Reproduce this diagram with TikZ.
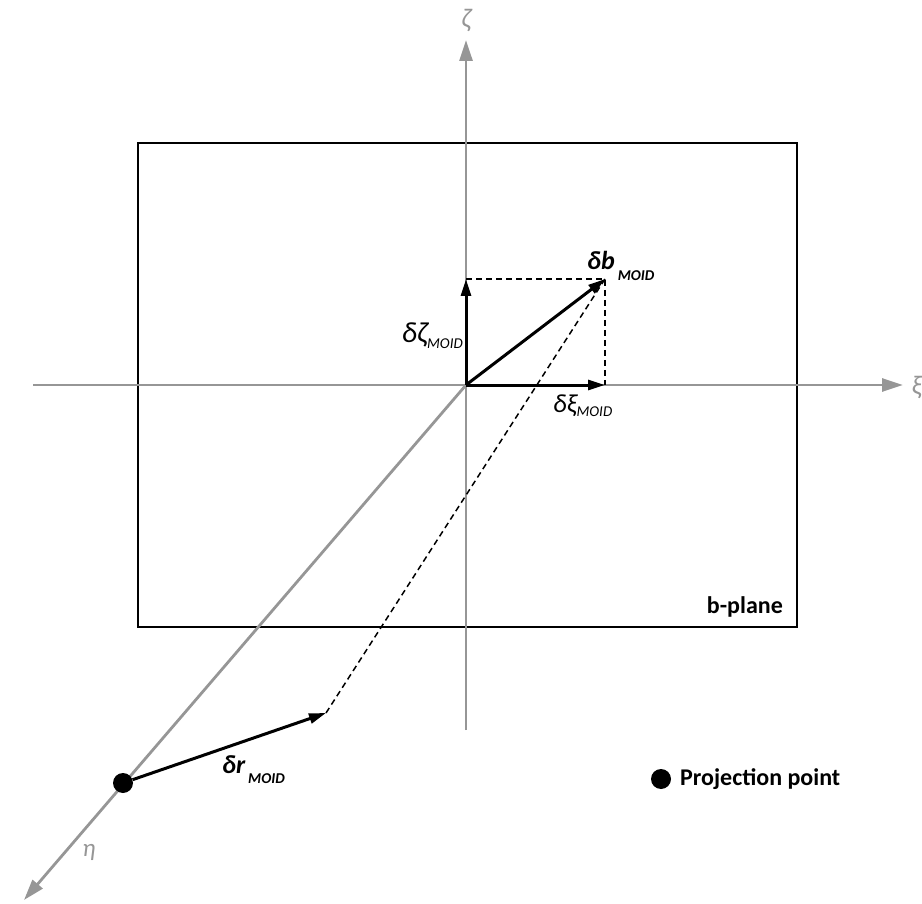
\documentclass[tikz,border=0pt]{standalone}
\usepackage{fontspec}
\setmainfont{Carlito}
\usetikzlibrary{arrows.meta}
\definecolor{axisgray}{RGB}{150,150,150}
\tikzset{
  axis/.style={draw=axisgray, line width=2.8pt, -{Triangle[length=21pt,width=13pt]}},
  axisplain/.style={draw=axisgray, line width=2.8pt},
  vec/.style={draw=black, line width=3pt, -{Triangle[length=17pt,width=10pt]}},
  dashline/.style={draw=black, line width=1.5pt, dash pattern=on 6pt off 4pt},
  axlabel/.style={text=axisgray, font=\fontsize{27}{30}\selectfont\itshape, inner sep=0pt},
  veclabel/.style={font=\fontsize{26}{30}\selectfont\itshape, inner sep=0pt},
  plainlabel/.style={font=\fontsize{24}{28}\selectfont\bfseries, inner sep=0pt},
}
\newcommand{\moidreg}[1]{\raisebox{-#1}{\fontsize{15}{17}\selectfont\mdseries\itshape MOID}}
\newcommand{\moidbold}[1]{\kern3pt\raisebox{-#1}{\fontsize{15}{17}\selectfont\bfseries\itshape MOID}}
\begin{document}
\begin{tikzpicture}[x=1pt,y=-1pt]
\useasboundingbox (0,0) rectangle (922,904);
% coordinates
\coordinate (O) at (466,385);
\coordinate (ztop) at (466,40);
\coordinate (zbot) at (466,730);
\coordinate (xleft) at (33,385);
\coordinate (xright) at (903,385);
\coordinate (etaend) at (24,900);
\coordinate (B) at (605,279);
\coordinate (Z) at (466,279);
\coordinate (X) at (605,385);
\coordinate (R) at (326,713);
% b-plane rectangle
\node[draw=black, line width=2.5pt, minimum width=659pt, minimum height=484pt, inner sep=0pt] (plane) at (467.5,385) {};
\node[plainlabel, anchor=base east] (bplane) at (783,613) {b-plane};
% axes
\draw[axisplain] (zbot) -- (O);
\draw[axis] (O) -- (ztop);
\draw[axisplain] (xleft) -- (O);
\draw[axis] (O) -- (xright);
\draw[axis] (O) -- (etaend);
\node[axlabel] (zetalab) at (466,20) {ζ};
\node[axlabel, anchor=east] (xilab) at (922,387) {ξ};
\node[axlabel, font=\fontsize{25}{28}\selectfont\itshape] (etalab) at (89,852) {η};
% projection point
\node[circle, fill=black, minimum size=20pt, inner sep=0pt] (P) at (123,783) {};
% dashed construction
\draw[dashline] (Z) -- (B) -- (X);
\draw[dashline] (R) -- (B);
% vectors
\draw[vec] (O) -- (Z);
\draw[vec] (O) -- (X);
\draw[vec] (O) -- (B);
\draw[vec] (P) -- (R);
% labels
\node[veclabel, font=\fontsize{29}{32}\selectfont\itshape, anchor=base east] (lz) at (463,342) {δζ\moidreg{6pt}};
\node[veclabel, anchor=base west] (lx) at (553,412) {δξ\moidreg{4pt}};
\node[veclabel, font=\fontsize{26}{30}\selectfont\bfseries\itshape, anchor=base west] (lb) at (587,270) {δb\moidbold{11pt}};
\node[veclabel, font=\fontsize{26}{30}\selectfont\bfseries\itshape, anchor=base west] (lr) at (222,773) {δr\moidbold{10pt}};
% legend
\node[circle, fill=black, minimum size=20pt, inner sep=0pt] (legdot) at (661,779) {};
\node[plainlabel, anchor=west] (legtext) at (680,779) {Projection point};
\end{tikzpicture}
\end{document}
